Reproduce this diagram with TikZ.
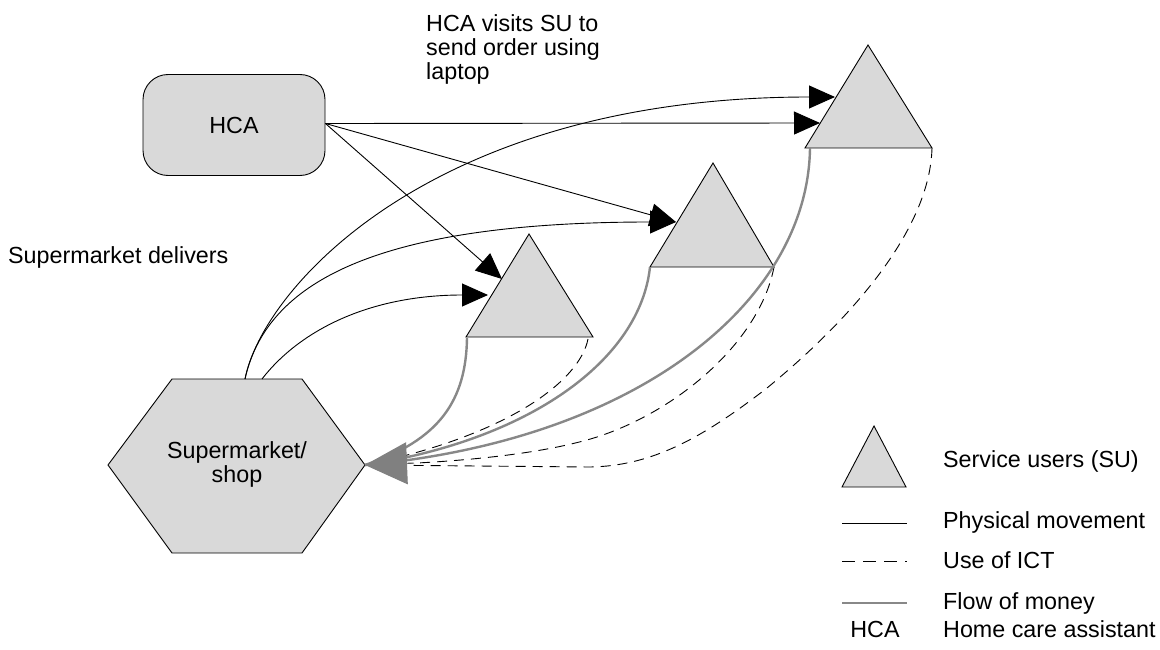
\documentclass[tikz,border=0pt]{standalone}
\usepackage{fontspec}
\setmainfont{Liberation Sans}
\usetikzlibrary{arrows.meta}
\definecolor{shade}{RGB}{217,217,217}
\definecolor{moneygray}{RGB}{136,136,136}
\definecolor{headgray}{RGB}{128,128,128}
\begin{document}
\begin{tikzpicture}[x=1pt,y=-1pt,
  every node/.style={font=\fontsize{23.3}{24}\selectfont, inner sep=0pt},
  shapebox/.style={draw=black, line width=0.9pt, fill=shade, line join=miter},
  phys/.style={draw=black, line width=0.9pt},
  physarrow/.style={phys, -{Triangle[length=26pt,width=23pt]}},
  ict/.style={draw=black, line width=0.9pt, dash pattern=on 10pt off 7pt},
  moneyline/.style={draw=moneygray, line width=2.4pt},
  moneyhead/.style={draw=headgray, fill=headgray, line width=1pt, -{Triangle[length=42pt,width=42pt]}},
  legtext/.style={anchor=base west}
]
\useasboundingbox (0,0) rectangle (1160,650);

% ---- HCA box
\node[shapebox, rounded corners=25pt, minimum width=182pt, minimum height=101pt] (hca) at (234,125) {HCA};
\coordinate (hcap) at ([yshift=1.5pt]hca.east);

% ---- Supermarket hexagon
\coordinate (hl) at (108,465);
\coordinate (htl) at (172,379);
\coordinate (htr) at (302,379);
\coordinate (hr) at (365,465);
\coordinate (hbr) at (302,553);
\coordinate (hbl) at (172,553);
\draw[shapebox] (hl) -- (htl) -- (htr) -- (hr) -- (hbr) -- (hbl) -- cycle;
\node[align=center] (shop) at (237,464) {Supermarket/\\shop};
\coordinate (hs1) at (245,379);
\coordinate (hs2) at (262,379);
\coordinate (sm) at (365,465);
\coordinate (smin) at (414,463);

% ---- Service user triangles
\coordinate (t1a) at (529,234); \coordinate (t1l) at (466,337); \coordinate (t1r) at (593,337);
\coordinate (t2a) at (713,163); \coordinate (t2l) at (650,267); \coordinate (t2r) at (774,267);
\coordinate (t3a) at (868,45);  \coordinate (t3l) at (805,148); \coordinate (t3r) at (932,148);
\draw[shapebox] (t1a) -- (t1l) -- (t1r) -- cycle;
\draw[shapebox] (t2a) -- (t2l) -- (t2r) -- cycle;
\draw[shapebox] (t3a) -- (t3l) -- (t3r) -- cycle;

\coordinate (t1in1) at (502,279);
\coordinate (t1in2) at (488,295);
\coordinate (t2in) at (676,222);
\coordinate (t3in1) at (835,97);
\coordinate (t3in2) at (820,123);
\coordinate (t1g) at (467,338);
\coordinate (t3g) at (810,148);
\coordinate (t1d) at (588,339);

% ---- ICT (dashed)
\draw[ict] (t1d) .. controls (580,380) and (510,435) .. (sm);
\draw[ict] (t2r) .. controls (760,340) and (680,410) .. (597,437)
                 .. controls (540,455) and (450,463) .. (sm);
\draw[ict] (t3r) .. controls (930,230) and (850,320) .. (767,388)
                 .. controls (700,440) and (650,466) .. (590,467) -- (sm);

% ---- Flow of money (gray)
\draw[moneyline] (t1g) .. controls (466,400) and (440,440) .. (sm);
\draw[moneyline] (t2l) .. controls (640,360) and (530,440) .. (sm);
\draw[moneyline] (t3g) .. controls (808,300) and (640,440) .. (sm);
\draw[moneyhead] (smin) -- (sm);

% ---- Physical movement
\draw[physarrow] (hcap) -- (t3in2);
\draw[physarrow] (hcap) -- (t2in);
\draw[physarrow] (hcap) -- (t1in1);
\draw[physarrow] (hs2) .. controls (300,330) and (370,295) .. (t1in2);
\draw[physarrow] (hs1) .. controls (265,290) and (360,222) .. (t2in);
\draw[physarrow] (hs1) .. controls (262,290) and (430,97) .. (t3in1);

% ---- labels
\node[anchor=north west, align=left] (lbl1) at (426,14.5) {HCA visits SU to\\send order using\\laptop};
\node[anchor=base west] (lbl2) at (8,263) {Supermarket delivers};

% ---- legend
\coordinate (lta) at (874,426); \coordinate (ltl) at (842,487); \coordinate (ltr) at (906,487);
\draw[shapebox] (lta) -- (ltl) -- (ltr) -- cycle;
\coordinate (l1a) at (842,523); \coordinate (l1b) at (907,523);
\coordinate (l2a) at (842,561); \coordinate (l2b) at (907,561);
\coordinate (l3a) at (842,603); \coordinate (l3b) at (907,603);
\draw[phys] (l1a) -- (l1b);
\draw[draw=black, line width=0.9pt, dash pattern=on 13pt off 8pt] (l2a) -- (l2b);
\draw[moneyline] (l3a) -- (l3b);
\node[legtext] (lg1) at (943,467) {Service users (SU)};
\node[legtext] (lg2) at (943,528) {Physical movement};
\node[legtext] (lg3) at (943,568) {Use of ICT};
\node[legtext] (lg4) at (943,609) {Flow of money};
\node[anchor=base] (lg5a) at (875,637) {HCA};
\node[legtext] (lg5) at (943,637) {Home care assistant};
\end{tikzpicture}
\end{document}
